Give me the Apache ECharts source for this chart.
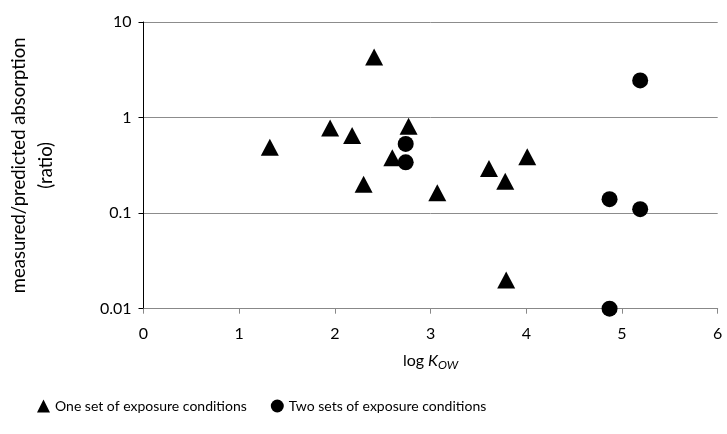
<!DOCTYPE html>
<html><head><meta charset="utf-8">
<script src="https://cdn.jsdelivr.net/npm/echarts@6/dist/echarts.min.js"></script>
<style>html,body{margin:0;padding:0;background:#fff}#c{width:727px;height:434px}</style>
</head><body><div id="c"></div>
<script>
const oneSetX = [1.32, 1.95, 2.18, 2.41, 2.30, 2.60, 2.77, 3.07, 3.61, 3.78, 4.01, 3.79];
const oneSetY = [0.49, 0.78, 0.65, 4.3, 0.20, 0.38, 0.81, 0.163, 0.293, 0.216, 0.388, 0.020];
const twoSetX = [2.74, 2.74, 5.19, 4.87, 5.19, 4.87];
const twoSetY = [0.53, 0.34, 2.45, 0.14, 0.11, 0.01];
const seriesNames = ['One set of exposure conditions', 'Two sets of exposure conditions'];
const yTicks = [0.01, 0.1, 1, 10];

const font = 'Lato';
const chart = echarts.init(document.getElementById('c'));
chart.setOption({
  animation: false,
  textStyle: {fontFamily: font, color: '#000'},
  grid: {left: 143.5, right: 9.3, top: 22, bottom: 125.3, containLabel: false, outerBoundsMode: 'none'},
  legend: {
    left: 37, top: 399, padding: 0, itemGap: 24, itemWidth: 13, itemHeight: 13,
    textStyle: {fontFamily: font, fontSize: 14, color: '#000'},
    data: [{name: seriesNames[0], icon: 'triangle'}, {name: seriesNames[1], icon: 'circle'}]
  },
  xAxis: {
    type: 'value', min: 0, max: 6, interval: 1,
    name: '{a|log }{b|K}{c|OW}', nameLocation: 'middle', nameGap: 42,
    nameTextStyle: {rich: {
      a: {fontFamily: font, fontSize: 16, color: '#000'},
      b: {fontFamily: font, fontSize: 16, fontStyle: 'italic', color: '#000'},
      c: {fontFamily: font, fontSize: 12, fontStyle: 'italic', color: '#000', verticalAlign: 'bottom', padding: [8,0,0,0]}
    }},
    axisLine: {lineStyle: {color: '#888', width: 1}},
    axisTick: {show: true, length: 5, lineStyle: {color: '#888'}},
    axisLabel: {fontSize: 16, color: '#000', margin: 17},
    splitLine: {show: false}
  },
  yAxis: {
    type: 'log', logBase: 10, min: 0.01, max: 10,
    name: 'measured/predicted absorption\n(ratio)', nameLocation: 'middle', nameRotate: 90, nameGap: 84,
    nameTextStyle: {fontSize: 18.5, lineHeight: 27, color: '#000'},
    axisLine: {show: true, lineStyle: {color: '#000', width: 1}},
    axisTick: {show: true, length: 5, lineStyle: {color: '#000'}},
    axisLabel: {fontSize: 16, color: '#000', margin: 12, formatter: v => {
      const t = yTicks.find(k => Math.abs(k - v) / k < 1e-6); return t === undefined ? '' : String(t);
    }},
    splitLine: {show: true, lineStyle: {color: '#8c8c8c', width: 1}},
    minorTick: {show: false}
  },
  series: [
    {name: seriesNames[0], type: 'scatter', symbol: 'triangle', symbolSize: [18, 17],
     itemStyle: {color: '#000', opacity: 1}, data: oneSetX.map((x, i) => [x, oneSetY[i]])},
    {name: seriesNames[1], type: 'scatter', symbol: 'circle', symbolSize: 16,
     itemStyle: {color: '#000', opacity: 1}, data: twoSetX.map((x, i) => [x, twoSetY[i]])}
  ]
});
</script></body></html>
